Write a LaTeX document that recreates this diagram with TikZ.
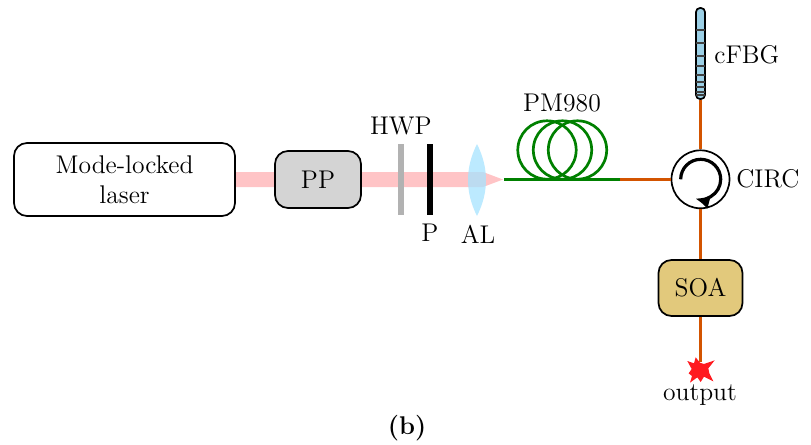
\documentclass[tikz,border=0pt]{standalone}
\usetikzlibrary{arrows.meta}
\definecolor{beamc}{HTML}{FFC4C6}
\definecolor{fiberg}{HTML}{008000}
\definecolor{fibero}{HTML}{D35400}
\definecolor{soac}{HTML}{E2C97C}
\definecolor{fbgc}{HTML}{9CD0E6}
\definecolor{lensc}{HTML}{A6E3FF}
\definecolor{starc}{HTML}{FF1A1F}
\tikzset{
  box/.style={draw=black,line width=0.85pt,rounded corners=6.5pt,inner sep=0pt,align=center},
  lab/.style={inner sep=0pt,font=\fontsize{12.8}{15}\selectfont},
  green fiber/.style={draw=fiberg,line width=1.35pt},
  orange fiber/.style={draw=fibero,line width=1.35pt},
  plate/.style={inner sep=0pt,minimum width=3pt,minimum height=35.5pt},
}
\begin{document}
\begin{tikzpicture}[x=0.5pt,y=-0.5pt,font=\fontsize{12.8}{15}\selectfont]
\useasboundingbox (0,0) rectangle (811,445);
% beam
\coordinate (beamtip) at (503,179.5);
\fill[beamc] (230,172) -- (483,172) -- (beamtip) -- (483,187) -- (230,187) -- cycle;
% sources
\node[box,fill=white,minimum width=110.5pt,minimum height=36.5pt] (laser) at (124.5,179.5) {Mode-locked\\laser};
\node[box,fill=black!17,minimum width=43pt,minimum height=28.5pt] (pp) at (318,179.5) {PP};
% plates
\node[plate,fill=black!30] (hwp) at (401,179.5) {};
\node[plate,fill=black] (pol) at (430,179.5) {};
\node[lab] at (401,126) {HWP};
\node[lab] at (430,233) {P};
% lens
\fill[lensc,opacity=0.75] (477,144) .. controls (465,168) and (465,192) .. (477,216) .. controls (489,192) and (489,168) .. (477,144) -- cycle;
\node[lab] at (478,234) {AL};
% fibre coil
\coordinate (fibstart) at (504,179.3);
\coordinate (fibend) at (620,179.3);
\node[circle,draw=black,fill=white,line width=0.85pt,minimum size=29pt,inner sep=0pt] (circ) at (700.5,179.3) {};
\draw[green fiber] (547,150) circle (14.6pt);
\draw[green fiber] (562.5,150) circle (14.6pt);
\draw[green fiber] (577.5,150) circle (14.6pt);
\draw[orange fiber] (fibend) -- (circ.west);
\draw[green fiber] (fibstart) -- (fibend);
\node[lab] at (562,103) {PM980};
% circulator
\draw[line width=1.6pt,-{Latex[length=7pt,width=7pt]}] (680.7,179.3) arc[start angle=180,end angle=-105,radius=10pt];
\node[lab,anchor=west] at (736,179) {CIRC};
% cFBG
\node[rounded corners=2pt,draw=black,fill=fbgc,line width=0.85pt,minimum width=4.5pt,minimum height=45.5pt,inner sep=0pt] (fbg) at (700.5,53.5) {};
\foreach \yy in {30,43,56,66,75,82,87,92,95}
  \draw[black!75,line width=0.6pt] (696,\yy) -- (705,\yy);
\node[lab,anchor=west] at (714,55) {cFBG};
\draw[orange fiber] (fbg.south) -- (circ.north);
% SOA
\node[box,fill=soac,minimum width=42pt,minimum height=28pt] (soa) at (700.5,288) {SOA};
\draw[orange fiber] (circ.south) -- (soa.north);
% output
\coordinate (out) at (700.5,362);
\draw[orange fiber] (soa.south) -- (out);
\begin{scope}[shift={(680,350)},scale=1/3]
\fill[starc] (22,33) -- (42,40) -- (47,22) -- (60,38) -- (72,42) -- (104,31) -- (85,55) -- (88,70) -- (100,94) -- (72,80) -- (62,96) -- (52,82) -- (30,98) -- (36,78) -- (26,70) -- (35,57) -- cycle;
\end{scope}
\node[lab] at (700,395) {output};
\node[lab] at (407,428) {\textbf{(b)}};
\end{tikzpicture}
\end{document}
